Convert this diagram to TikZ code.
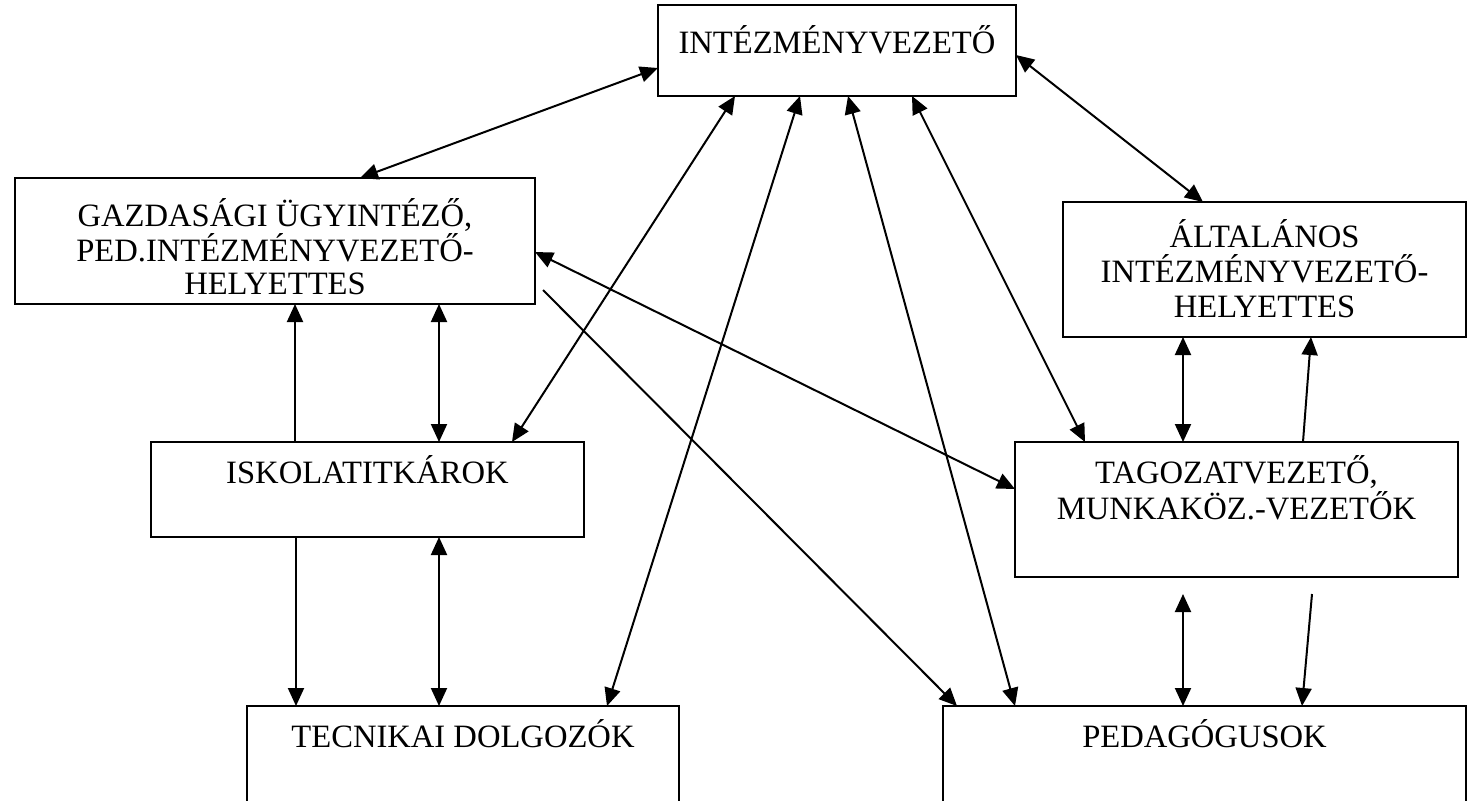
\documentclass[tikz,border=0pt]{standalone}
\usepackage{fontspec}
\setmainfont{Liberation Serif}
\usetikzlibrary{arrows.meta,calc}
\begin{document}
\begin{tikzpicture}[x=0.5pt,y=-0.5pt,
  box/.style={draw,line width=1pt,rectangle,inner sep=0pt,outer sep=0pt,anchor=north west},
  txt/.style={font=\fontsize{16.3pt}{17.5pt}\selectfont,inner sep=0pt,anchor=base},
  conn/.style={line width=1pt,-{Triangle[length=9pt,width=8pt]}},
  bi/.style={line width=1pt,{Triangle[length=9pt,width=8pt]}-{Triangle[length=9pt,width=8pt]}}]
\useasboundingbox (0,0) rectangle (1478,800);
% boxes
\node[box,minimum width=179pt,minimum height=45.5pt] (intez) at (658,5) {};
\node[box,minimum width=260pt,minimum height=63pt] (gazd) at (15,178) {};
\node[box,minimum width=201.5pt,minimum height=67.5pt] (altal) at (1063,202) {};
\node[box,minimum width=216.5pt,minimum height=47.5pt] (isk) at (151,442) {};
\node[box,minimum width=221.5pt,minimum height=67.5pt] (tag) at (1015,442) {};
\node[box,minimum width=216pt,minimum height=55pt] (tecn) at (247,706) {};
\node[box,minimum width=261.5pt,minimum height=55pt] (ped) at (943,706) {};
% texts
\node[txt] (intezT) at ($(intez.north)+(0,48)$) {INTÉZMÉNYVEZETŐ};
\node[txt] (gazdT1) at ($(gazd.north)+(0,48)$) {GAZDASÁGI ÜGYINTÉZŐ,};
\node[txt] (gazdT2) at ($(gazd.north)+(0,83)$) {PED.INTÉZMÉNYVEZETŐ-};
\node[txt] (gazdT3) at ($(gazd.north)+(0,116)$) {HELYETTES};
\node[txt] (altalT1) at ($(altal.north)+(0,45)$) {ÁLTALÁNOS};
\node[txt] (altalT2) at ($(altal.north)+(0,80)$) {INTÉZMÉNYVEZETŐ-};
\node[txt] (altalT3) at ($(altal.north)+(0,115)$) {HELYETTES};
\node[txt] (iskT) at ($(isk.north)+(0,41)$) {ISKOLATITKÁROK};
\node[txt] (tagT1) at ($(tag.north)+(0,41)$) {TAGOZATVEZETŐ,};
\node[txt] (tagT2) at ($(tag.north)+(0,77)$) {MUNKAKÖZ.-VEZETŐK};
\node[txt] (tecnT) at ($(tecn.north)+(0,41)$) {TECNIKAI DOLGOZÓK};
\node[txt] (pedT) at ($(ped.north)+(0,41)$) {PEDAGÓGUSOK};
% free ends
\coordinate (gfree) at ($(gazd.south east)+(8,-14)$);
\coordinate (tfreeA) at ($(tag.south west)+(168,17)$);
\coordinate (tfreeB) at ($(tag.south west)+(297,17)$);
% connectors
\draw[bi] ($(intez.north west)+(0,63)$) -- ($(gazd.north west)+(345,0)$);
\draw[bi] ($(intez.south west)+(77,0)$) -- ($(isk.north west)+(361,0)$);
\draw[bi] ($(intez.south west)+(142,0)$) -- ($(tecn.north west)+(360,0)$);
\draw[bi] ($(intez.south west)+(190,0)$) -- ($(ped.north west)+(72,0)$);
\draw[bi] ($(intez.south west)+(254,0)$) -- ($(tag.north west)+(70,0)$);
\draw[bi] ($(intez.north east)+(0,50)$) -- ($(altal.north west)+(140,0)$);
\draw[bi] ($(gazd.north east)+(0,74)$) -- ($(tag.north west)+(0,47)$);
\draw[conn] (gfree) -- ($(ped.north west)+(14,0)$);
\draw[conn] ($(isk.north west)+(144,0)$) -- ($(gazd.south west)+(280,0)$);
\draw[bi] ($(gazd.south west)+(424,0)$) -- ($(isk.north west)+(288,0)$);
\draw[conn] ($(isk.south west)+(145,0)$) -- ($(tecn.north west)+(49,0)$);
\draw[bi] ($(isk.south west)+(288,0)$) -- ($(tecn.north west)+(192,0)$);
\draw[bi] ($(altal.south west)+(120,0)$) -- ($(tag.north west)+(168,0)$);
\draw[conn] ($(tag.north west)+(288,0)$) -- ($(altal.south west)+(248,0)$);
\draw[bi] (tfreeA) -- ($(ped.north west)+(240,0)$);
\draw[conn] (tfreeB) -- ($(ped.north west)+(359,0)$);
\end{tikzpicture}
\end{document}
